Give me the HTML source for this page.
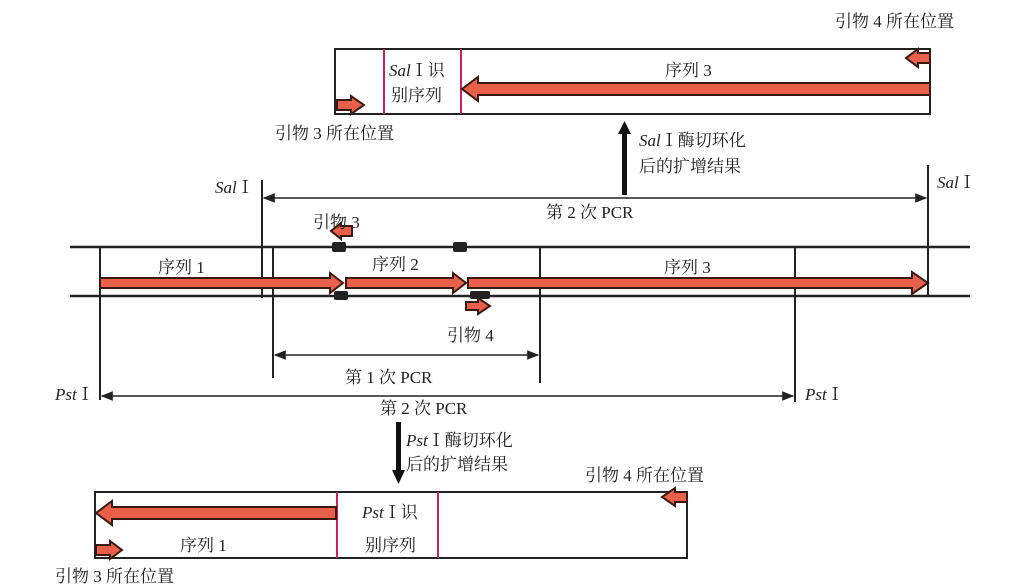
<!DOCTYPE html>
<html><head><meta charset="utf-8"><style>
html,body{margin:0;padding:0;background:#fff;}
svg{display:block;}
text{font-family:"Liberation Serif","Noto Serif CJK SC","Noto Sans CJK SC",serif;font-size:17px;fill:#222;}
.i{font-style:italic;}
</style></head><body>
<svg width="1024" height="587" viewBox="0 0 1024 587" xmlns="http://www.w3.org/2000/svg">
<defs>
<marker id="ah" viewBox="0 0 10 10" refX="9" refY="5" markerWidth="8" markerHeight="8" orient="auto-start-reverse"><path d="M0,1 L10,5 L0,9 z" fill="#222"/></marker>
</defs>
<g stroke="#222" fill="none">
<rect x="335" y="49" width="595" height="65" stroke-width="2"/>
<line x1="384" y1="49" x2="384" y2="114" stroke="#d0205a" stroke-width="2"/>
<line x1="461" y1="49" x2="461" y2="114" stroke="#d0205a" stroke-width="2"/>
<rect x="95" y="492" width="592" height="66" stroke-width="2"/>
<line x1="337" y1="492" x2="337" y2="558" stroke="#d0205a" stroke-width="2"/>
<line x1="438" y1="492" x2="438" y2="558" stroke="#d0205a" stroke-width="2"/>
<line x1="70" y1="247" x2="970" y2="247" stroke-width="2.5"/>
<line x1="70" y1="296" x2="970" y2="296" stroke-width="2.5"/>
<line x1="262" y1="180" x2="262" y2="298" stroke-width="2"/>
<line x1="928" y1="165" x2="928" y2="296" stroke-width="2"/>
<line x1="100" y1="247" x2="100" y2="400" stroke-width="2"/>
<line x1="273" y1="247" x2="273" y2="378" stroke-width="2"/>
<line x1="540" y1="247" x2="540" y2="383" stroke-width="2"/>
<line x1="795" y1="247" x2="795" y2="402" stroke-width="2"/>
<line x1="264" y1="198" x2="926" y2="198" stroke-width="1.5" marker-start="url(#ah)" marker-end="url(#ah)"/>
<line x1="275" y1="355" x2="538" y2="355" stroke-width="1.5" marker-start="url(#ah)" marker-end="url(#ah)"/>
<line x1="102" y1="396" x2="793" y2="396" stroke-width="1.5" marker-start="url(#ah)" marker-end="url(#ah)"/>
</g>
<rect x="622" y="132" width="5" height="63" fill="#111"/>
<polygon points="618,134 624.5,121 631,134" fill="#111"/>
<rect x="396" y="422" width="5" height="50" fill="#111"/>
<polygon points="392,470 398.5,484 405,470" fill="#111"/>
<g fill="#222">
<rect x="332" y="242" width="14" height="10" rx="2"/>
<rect x="453" y="242" width="14" height="10" rx="2"/>
<rect x="334" y="291" width="14" height="9" rx="2"/>
<rect x="470" y="291" width="20" height="8" rx="2"/>
</g>
<g fill="#e8604a" stroke="#3a1a10" stroke-width="2">
<polygon points="100,278 330,278 330,273 343,283 330,293 330,288 100,288"/>
<polygon points="346,278 453,278 453,273 466,283 453,293 453,288 346,288"/>
<polygon points="468,278 912,278 912,272 928,283 912,294 912,288 468,288"/>
<polygon points="930,83 478,83 478,77 462,89 478,101 478,95 930,95"/>
<polygon points="336,507 112,507 112,501 96,513 112,525 112,519 336,519"/>
<polygon points="930,53 918,53 918,49 906,58 918,67 918,63 930,63"/>
<polygon points="337,100 351,100 351,96 364,105 351,114 351,110 337,110"/>
<polygon points="687,492 675,492 675,488 662,497 675,506 675,502 687,502"/>
<polygon points="96,545 110,545 110,541 122,550 110,559 110,555 96,555"/>
<polygon points="352,226 341,226 341,223 331,231 341,239 341,236 352,236"/>
<polygon points="466,302 478,302 478,298 490,306 478,314 478,310 466,310"/>
</g>
<text x="835" y="27">引物 4 所在位置</text>
<text x="665" y="76">序列 3</text>
<text x="389" y="76"><tspan class="i">Sal</tspan>Ⅰ识</text>
<text x="391" y="101">别序列</text>
<text x="275" y="139">引物 3 所在位置</text>
<text x="639" y="146"><tspan class="i">Sal</tspan>Ⅰ酶切环化</text>
<text x="639" y="172">后的扩增结果</text>
<text x="215" y="193"><tspan class="i">Sal</tspan>Ⅰ</text>
<text x="937" y="188"><tspan class="i">Sal</tspan>Ⅰ</text>
<text x="546" y="218">第 2 次 PCR</text>
<text x="313" y="228">引物 3</text>
<text x="158" y="273">序列 1</text>
<text x="372" y="270">序列 2</text>
<text x="664" y="273">序列 3</text>
<text x="447" y="341">引物 4</text>
<text x="345" y="383">第 1 次 PCR</text>
<text x="55" y="400"><tspan class="i">Pst</tspan>Ⅰ</text>
<text x="805" y="400"><tspan class="i">Pst</tspan>Ⅰ</text>
<text x="380" y="414">第 2 次 PCR</text>
<text x="406" y="446"><tspan class="i">Pst</tspan>Ⅰ酶切环化</text>
<text x="406" y="470">后的扩增结果</text>
<text x="585" y="481">引物 4 所在位置</text>
<text x="362" y="518"><tspan class="i">Pst</tspan>Ⅰ识</text>
<text x="365" y="551">别序列</text>
<text x="180" y="551">序列 1</text>
<text x="55" y="582">引物 3 所在位置</text>
</svg>
</body></html>
